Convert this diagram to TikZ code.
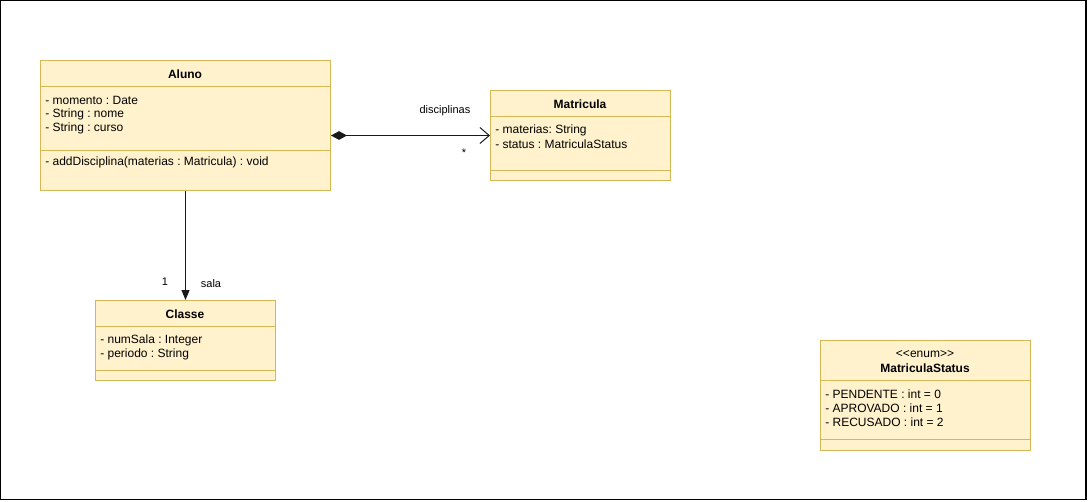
\documentclass[tikz,border=0pt]{standalone}
\usepackage{fontspec}
\setmainfont{Liberation Sans}
\usetikzlibrary{arrows.meta}
\definecolor{umlfill}{HTML}{FFF2CC}
\definecolor{umlline}{HTML}{D6B656}
\definecolor{edge}{HTML}{1A1A1A}
\frenchspacing
\begin{document}
\begin{tikzpicture}[x=0.75pt,y=-0.75pt,
  umlbox/.style={draw=umlline, fill=umlfill, line width=0.75pt, anchor=north west, inner sep=0pt},
  sepline/.style={draw=umlline, line width=0.75pt},
  title/.style={font=\fontsize{9}{11}\selectfont\bfseries, inner sep=0pt, anchor=center},
  member/.style={font=\fontsize{9}{11}\selectfont, inner sep=0pt, anchor=west},
  elabel/.style={font=\fontsize{8.25}{10}\selectfont, inner sep=0pt, anchor=center},
  link/.style={draw=edge, line width=0.75pt}
]
\useasboundingbox (0,0) rectangle (1088,501);
\draw[line width=1.2pt] (0.6,0.6) rectangle (1086.2,499.6);

% class Aluno
\node[umlbox, minimum width=217.5pt, minimum height=97.5pt] (aluno) at (40,60) {};
\draw[sepline] (40,86) -- (330,86);
\draw[sepline] (40,150) -- (330,150);
\node[title] (alunoT) at (185,74) {Aluno};
\node[member] (a1) at (45,100.5) {- momento : Date};
\node[member] (a2) at (45,114.5) {- String : nome};
\node[member] (a3) at (45,128.5) {- String : curso};
\node[member] (a4) at (45,162.5) {- addDisciplina(materias : Matricula) : void};

% class Matricula
\node[umlbox, minimum width=135pt, minimum height=67.5pt] (matricula) at (490,90) {};
\draw[sepline] (490,116) -- (670,116);
\draw[sepline] (490,170) -- (670,170);
\node[title] (matriculaT) at (580,104) {Matricula};
\node[member] (m1) at (495,130) {- materias: String};
\node[member] (m2) at (495,144) {- status : MatriculaStatus};

% class Classe
\node[umlbox, minimum width=135pt, minimum height=60pt] (classe) at (95,300) {};
\draw[sepline] (95,326) -- (275,326);
\draw[sepline] (95,370) -- (275,370);
\node[title] (classeT) at (185,314) {Classe};
\node[member] (c1) at (100,340) {- numSala : Integer};
\node[member] (c2) at (100,354) {- periodo : String};

% enumeration MatriculaStatus
\node[umlbox, minimum width=157.5pt, minimum height=82.5pt] (status) at (820,340) {};
\draw[sepline] (820,380) -- (1030,380);
\draw[sepline] (820,439) -- (1030,439);
\node[font=\fontsize{9}{11}\selectfont, inner sep=0pt] (statusS) at (925,354) {<{}<enum>{}>};
\node[title] (statusT) at (925,368) {MatriculaStatus};
\node[member] (s1) at (825,394.5) {- PENDENTE : int = 0};
\node[member] (s2) at (825,408.5) {- APROVADO : int = 1};
\node[member] (s3) at (825,422.5) {- RECUSADO : int = 2};

% composition Aluno -> Matricula
\draw[link, {Diamond[length=12pt,width=6.5pt]}-{Straight Barb[length=7pt,width=12pt]}]
  ([yshift=-7.5pt]aluno.east) -- (matricula.west);
\node[elabel] (lblDisc) at (445,110.5) {disciplinas};
\node[elabel] (lblMany) at (464,153) {*};

% association Aluno -> Classe
\draw[link, -{Triangle[length=7.5pt,width=6pt]}] (aluno.south) -- (classe.north);
\node[elabel] (lblOne) at (165,282) {1};
\node[elabel] (lblSala) at (211,283.5) {sala};
\end{tikzpicture}
\end{document}
